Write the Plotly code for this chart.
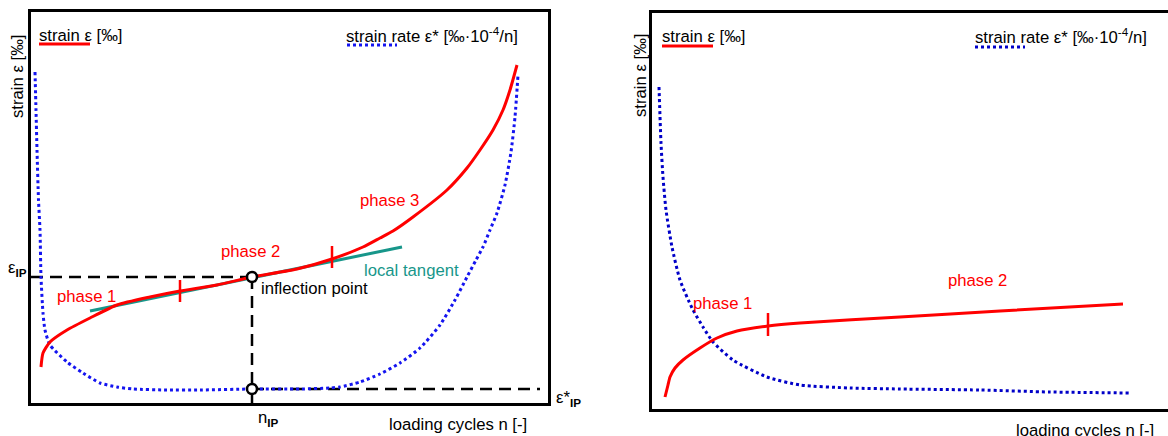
import plotly.graph_objects as go

# ---------------- data (arbitrary units) ----------------
# Left panel: loading cycles n vs strain / strain rate
L_strain_n = [10, 12, 19, 36, 59, 86, 119, 149, 186, 221, 266, 301, 332, 349, 362, 382, 416, 436, 449, 462, 472, 479, 486]
L_strain_e = [36, 50, 61, 73, 85, 98, 106, 112, 118, 126, 134, 144, 156, 165, 172, 186, 213, 235, 253, 273, 293, 313, 338]

L_rate_n = [4, 5, 6, 7.5, 9, 10, 12, 14, 19, 36, 52, 69, 86, 102, 136, 169, 221, 269, 299, 309, 329, 349,
            369, 389, 409, 424, 436, 445, 452, 459, 466, 474, 480, 484, 487]
L_rate_e = [331, 293, 253, 203, 173, 126, 90, 73, 58, 41, 30, 20, 16, 14, 13, 13, 14, 14, 15, 16, 21, 29,
            40, 55, 78, 103, 126, 143, 156, 173, 190, 218, 251, 286, 328]

L_tangent_n = [59, 371]
L_tangent_e = [92, 156]

L_phase_marks_n = [149, 301]
L_phase_marks_lo = [101, 135]
L_phase_marks_hi = [123, 157]

IP_n = 221
IP_e = 126
IP_rate = 14
L_n_end = 509

# Right panel
R_strain_n = [13, 16, 18, 23, 31, 48, 65, 85, 116, 148, 248, 348, 471]
R_strain_e = [12, 24, 32, 41, 49, 61, 71, 78, 83, 86, 92, 98, 105]

R_rate_n = [7, 9, 11, 14, 20, 28, 40, 51, 61, 81, 115, 148, 198, 248, 328, 398, 478]
R_rate_e = [322, 266, 232, 199, 162, 129, 101, 82, 67, 49, 32, 24, 21, 20, 19, 17, 16]

R_phase_mark_n = 116
R_phase_mark_lo = 73
R_phase_mark_hi = 96

# ---------------- styles ----------------
RED = "#ff0000"
BLUE_L = "#1414f0"
BLUE_R = "#0000c8"
TEAL = "#17968a"
FONT = "Liberation Sans, Arial, sans-serif"
FS = 16.7
W, H = 1168, 436

fig = go.Figure()

def line(x, y, color, width=3, dash="solid", xa="x", ya="y"):
    fig.add_trace(go.Scatter(x=x, y=y, mode="lines", xaxis=xa, yaxis=ya,
                             line=dict(color=color, width=width, dash=dash, shape="spline", smoothing=0.6),
                             hoverinfo="skip", showlegend=False))

DASH = "12px,7px"

# ---- left panel ----
line([0, IP_n], [IP_e, IP_e], "black", 2.5, DASH)
line([IP_n, IP_n], [IP_e, 0], "black", 2.5, DASH)
line([IP_n, L_n_end], [IP_rate, IP_rate], "black", 2.5, DASH)
line(L_rate_n, L_rate_e, BLUE_L, 3, "dot")
line(L_tangent_n, L_tangent_e, TEAL, 3)
line(L_strain_n, L_strain_e, RED, 3)
for n, lo, hi in zip(L_phase_marks_n, L_phase_marks_lo, L_phase_marks_hi):
    line([n, n], [lo, hi], RED, 2.5)
fig.add_trace(go.Scatter(x=[IP_n, IP_n], y=[IP_e, IP_rate], mode="markers", xaxis="x", yaxis="y",
                         marker=dict(symbol="circle", size=10, color="white", line=dict(color="black", width=2.5)),
                         hoverinfo="skip", showlegend=False))
# legend samples
line([8, 59], [359, 359], RED, 3)
line([316, 366], [358, 358], BLUE_L, 3, "dot")

# ---- right panel ----
line(R_rate_n, R_rate_e, BLUE_R, 3, "dot", "x2", "y2")
line(R_strain_n, R_strain_e, RED, 3, "solid", "x2", "y2")
line([R_phase_mark_n, R_phase_mark_n], [R_phase_mark_lo, R_phase_mark_hi], RED, 2.5, "solid", "x2", "y2")
line([10, 61], [363, 363], RED, 3, "solid", "x2", "y2")
line([323, 373], [362, 362], BLUE_R, 3, "dot", "x2", "y2")

# ---------------- annotations (placed in page pixels) ----------------
def txt(px, py, text, color="black", size=FS, xanchor="center", angle=0):
    fig.add_annotation(x=px / W, y=1 - py / H, xref="paper", yref="paper", text=text, showarrow=False,
                       font=dict(family=FONT, size=size, color=color),
                       xanchor=xanchor, yanchor="middle", textangle=angle)

EPS = "ε"
RATE = "strain rate " + EPS + "* [‰·10<sup>-4</sup>/n]"
STRAIN = "strain " + EPS + " [‰]"

txt(37, 35, STRAIN, xanchor="left")
txt(344, 35, RATE, xanchor="left")
txt(86, 296, "phase 1", RED)
txt(250, 251, "phase 2", RED)
txt(389, 200, "phase 3", RED)
txt(259, 288, "inflection point", xanchor="left")
txt(362, 270, "local tangent", TEAL, xanchor="left")
txt(17, 268, EPS + "<sub><b>IP</b></sub>")
txt(268, 418, "n<sub><b>IP</b></sub>")
txt(554, 398, EPS + "*<sub><b>IP</b></sub>", xanchor="left")
txt(458, 424, "loading cycles n [-]")
txt(17, 77, STRAIN, angle=-90)

txt(660, 37, STRAIN, xanchor="left")
txt(973, 36, RATE, xanchor="left")
txt(722, 303, "phase 1", RED)
txt(977, 280, "phase 2", RED)
txt(1085, 430, "loading cycles n [-]")
txt(640, 76, STRAIN, angle=-90)

ax_common = dict(showgrid=False, zeroline=False, showticklabels=False, ticks="",
                 showline=True, linecolor="black", linewidth=3, fixedrange=True)
fig.update_layout(
    width=W, height=H, autosize=False,
    margin=dict(l=0, r=0, t=0, b=0),
    paper_bgcolor="white", plot_bgcolor="white",
    hovermode=False,
    xaxis=dict(domain=[31 / W, 548 / W], range=[0, 517], mirror=True, **ax_common),
    yaxis=dict(domain=[(H - 403) / H, (H - 12) / H], range=[0, 391], mirror=True, **ax_common),
    xaxis2=dict(domain=[652 / W, 1.0], range=[0, 516], mirror=True, anchor="y2", **ax_common),
    yaxis2=dict(domain=[(H - 409) / H, (H - 13) / H], range=[0, 396], mirror=False, anchor="x2", **ax_common),
)

fig.write_html("out.html", config={"displayModeBar": False},
               post_script="document.body.style.margin='0';document.body.style.overflow='hidden';")
